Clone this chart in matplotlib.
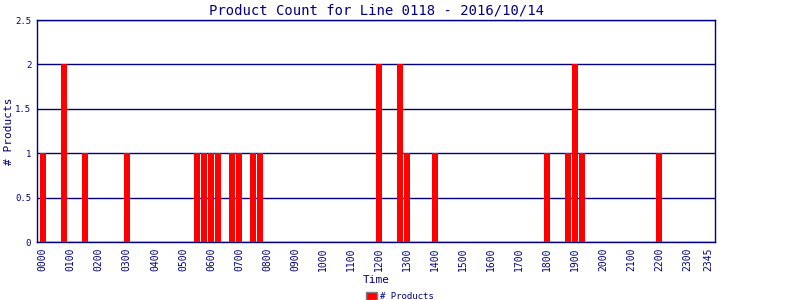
import matplotlib
matplotlib.use("Agg")
import matplotlib.pyplot as plt
import numpy as np

# 15 minute slots over the day, only the non-zero ones listed
slot_times = ["0000", "0045", "0130", "0300", "0530", "0545", "0600", "0615",
              "0645", "0700", "0730", "0745", "1200", "1245", "1300", "1400",
              "1800", "1845", "1900", "1915", "2200"]
counts = [1, 2, 1, 1, 1, 1, 1, 1, 1, 1, 1, 1, 2, 2, 1, 1, 1, 1, 2, 1, 1]

hour_labels = ["%02d00" % h for h in range(24)] + ["2345"]

navy = "#000080"
plt.rcParams['font.family'] = ['DejaVu Sans Mono']

all_slots = ["%02d%02d" % (h, m) for h in range(24) for m in (0, 15, 30, 45)]
values = np.zeros(len(all_slots))
for t, c in zip(slot_times, counts):
    values[all_slots.index(t)] = c

fig = plt.figure(figsize=(8, 3), dpi=100)
ax = fig.add_axes([0.046, 0.193, 0.848, 0.74])
ax.bar(np.arange(len(all_slots)), values, width=0.86, color="#ff0000",
       edgecolor="none", label="# Products", zorder=3)

ax.set_xlim(-0.86, 96)
ax.set_ylim(0, 2.5)
ax.set_yticks([0, 0.5, 1, 1.5, 2, 2.5])
ax.set_yticklabels(["0", "0.5", "1", "1.5", "2", "2.5"])
tick_pos = [all_slots.index(l) for l in hour_labels]
ax.set_xticks(tick_pos)
ax.set_xticklabels(hour_labels, rotation=90)
ax.tick_params(axis="x", colors=navy, labelsize=7, length=0, pad=4)
ax.tick_params(axis="y", colors=navy, labelsize=6.5, length=0, pad=4)
ax.grid(axis="y", color=navy, linewidth=1, zorder=1)
for s in ax.spines.values():
    s.set_color(navy)
    s.set_linewidth(1.0)

ax.set_title("Product Count for Line 0118 - 2016/10/14", color=navy,
             fontsize=10, pad=4)
ax.set_ylabel("# Products", color=navy, fontsize=8)
ax.yaxis.set_label_coords(-0.034, 0.5)
ax.set_xlabel("Time", color=navy, fontsize=8, labelpad=3)

leg = fig.legend(loc="lower center", bbox_to_anchor=(0.5, -0.03), frameon=False,
                 fontsize=6.5, handlelength=1.2, handleheight=0.9,
                 handletextpad=0.3)
for txt in leg.get_texts():
    txt.set_color(navy)
for h in leg.legend_handles:
    h.set_edgecolor("#808080")

fig.savefig("out.png", dpi=100)
